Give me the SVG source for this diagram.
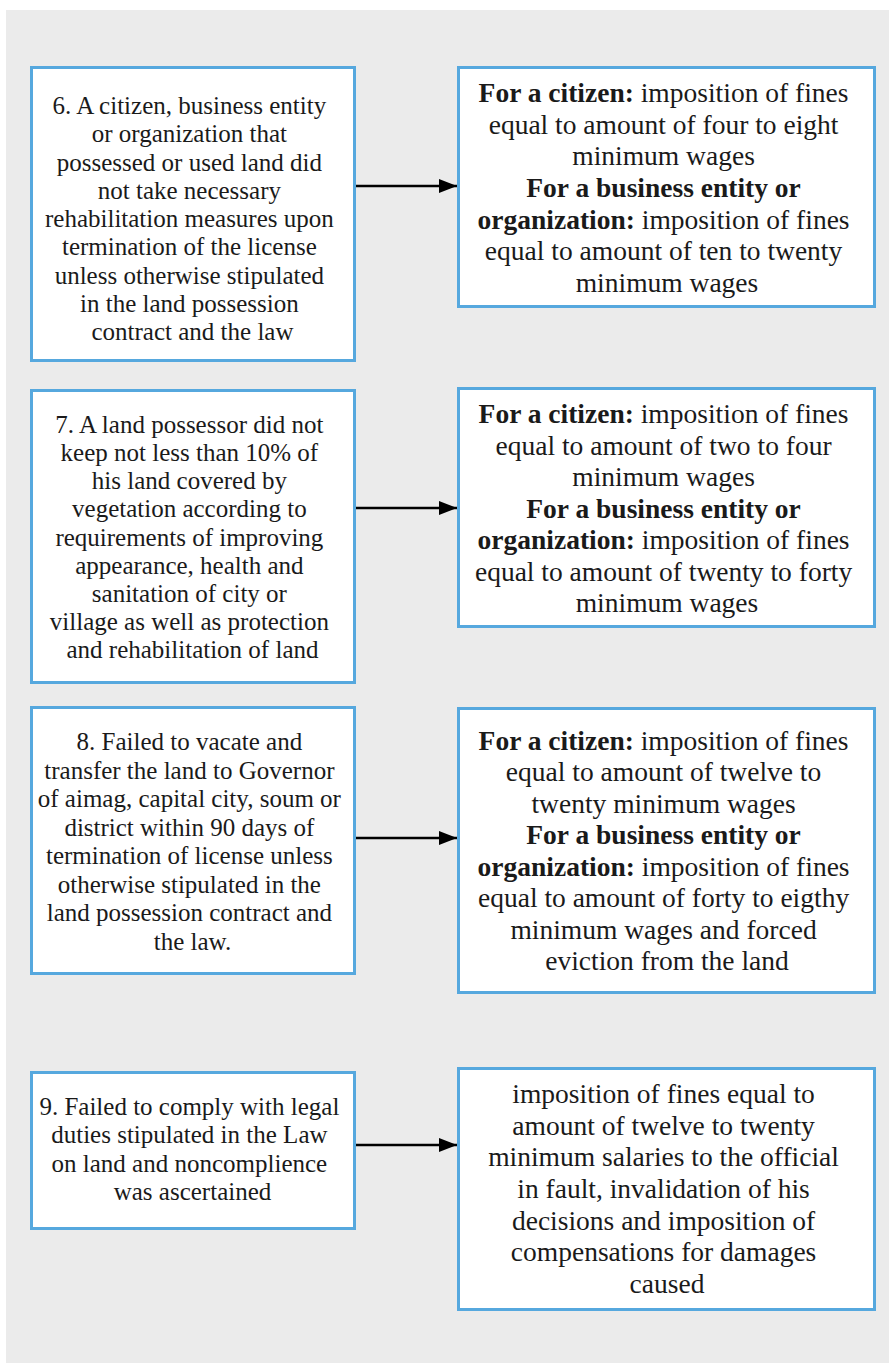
<svg xmlns="http://www.w3.org/2000/svg" width="889" height="1371" viewBox="0 0 889 1371">
<defs>
<style>
.bx{fill:#ffffff;stroke:#56a8de;stroke-width:3}
.tl{font-family:'Liberation Serif','DejaVu Serif',serif;font-size:25px;fill:#1a1a1a;text-anchor:middle}
.tr{font-family:'Liberation Serif','DejaVu Serif',serif;font-size:27.5px;fill:#1a1a1a;text-anchor:middle}
.b{font-weight:bold}
.cn{stroke:#000;stroke-width:2.5;fill:none}
</style>
<marker id="ah" markerWidth="18" markerHeight="14" refX="18" refY="7" orient="auto" markerUnits="userSpaceOnUse">
<polygon points="0,0 18,7 0,14" fill="#000"/>
</marker>
</defs>
<rect x="0" y="0" width="889" height="1371" fill="#ffffff"/>
<rect x="6" y="10" width="883" height="1353" fill="#ebebeb"/>

<g id="connectors">
<line class="cn" x1="355" y1="186" x2="457" y2="186" marker-end="url(#ah)"/>
<line class="cn" x1="355" y1="508" x2="457" y2="508" marker-end="url(#ah)"/>
<line class="cn" x1="355" y1="838" x2="457" y2="838" marker-end="url(#ah)"/>
<line class="cn" x1="355" y1="1145" x2="457" y2="1145" marker-end="url(#ah)"/>
</g>

<g id="node6">
<rect class="bx" x="31.5" y="67.5" width="323" height="293"/>
<text class="tl" font-family="Liberation Serif, serif">
<tspan x="192.5" y="114">6. A citizen, business entity</tspan>
<tspan x="192.5" y="142.3">or organization that</tspan>
<tspan x="192.5" y="170.5">possessed or used land did</tspan>
<tspan x="192.5" y="198.8">not take necessary</tspan>
<tspan x="192.5" y="227">rehabilitation measures upon</tspan>
<tspan x="192.5" y="255.3">termination of the license</tspan>
<tspan x="192.5" y="283.5">unless otherwise stipulated</tspan>
<tspan x="192.5" y="311.8">in the land possession</tspan>
<tspan x="192.5" y="340">contract and the law</tspan>
</text>
</g>

<g id="result6">
<rect class="bx" x="458.5" y="67.5" width="416" height="239"/>
<text class="tr">
<tspan x="667" y="102"><tspan class="b">For a citizen:</tspan> imposition of fines</tspan>
<tspan x="667" y="133.7">equal to amount of four to eight</tspan>
<tspan x="667" y="165.3">minimum wages</tspan>
<tspan x="667" y="197" class="b">For a business entity or</tspan>
<tspan x="667" y="228.7"><tspan class="b">organization:</tspan> imposition of fines</tspan>
<tspan x="667" y="260.3">equal to amount of ten to twenty</tspan>
<tspan x="667" y="292">minimum wages</tspan>
</text>
</g>

<g id="node7">
<rect class="bx" x="31.5" y="390.5" width="323" height="292"/>
<text class="tl">
<tspan x="192.5" y="433">7. A land possessor did not</tspan>
<tspan x="192.5" y="461.1">keep not less than 10% of</tspan>
<tspan x="192.5" y="489.3">his land covered by</tspan>
<tspan x="192.5" y="517.4">vegetation according to</tspan>
<tspan x="192.5" y="545.5">requirements of improving</tspan>
<tspan x="192.5" y="573.6">appearance, health and</tspan>
<tspan x="192.5" y="601.8">sanitation of city or</tspan>
<tspan x="192.5" y="629.9">village as well as protection</tspan>
<tspan x="192.5" y="658">and rehabilitation of land</tspan>
</text>
</g>

<g id="result7">
<rect class="bx" x="458.5" y="388.5" width="416" height="238"/>
<text class="tr">
<tspan x="667" y="423"><tspan class="b">For a citizen:</tspan> imposition of fines</tspan>
<tspan x="667" y="454.5">equal to amount of two to four</tspan>
<tspan x="667" y="486">minimum wages</tspan>
<tspan x="667" y="517.5" class="b">For a business entity or</tspan>
<tspan x="667" y="549"><tspan class="b">organization:</tspan> imposition of fines</tspan>
<tspan x="667" y="580.5">equal to amount of twenty to forty</tspan>
<tspan x="667" y="612">minimum wages</tspan>
</text>
</g>

<g id="node8">
<rect class="bx" x="31.5" y="707.5" width="323" height="266"/>
<text class="tl">
<tspan x="192.5" y="750">8. Failed to vacate and</tspan>
<tspan x="192.5" y="778.6">transfer the land to Governor</tspan>
<tspan x="192.5" y="807.1">of aimag, capital city, soum or</tspan>
<tspan x="192.5" y="835.7">district within 90 days of</tspan>
<tspan x="192.5" y="864.3">termination of license unless</tspan>
<tspan x="192.5" y="892.9">otherwise stipulated in the</tspan>
<tspan x="192.5" y="921.4">land possession contract and</tspan>
<tspan x="192.5" y="950">the law.</tspan>
</text>
</g>

<g id="result8">
<rect class="bx" x="458.5" y="708.5" width="416" height="284"/>
<text class="tr">
<tspan x="667" y="750"><tspan class="b">For a citizen:</tspan> imposition of fines</tspan>
<tspan x="667" y="781.4">equal to amount of twelve to</tspan>
<tspan x="667" y="812.9">twenty minimum wages</tspan>
<tspan x="667" y="844.3" class="b">For a business entity or</tspan>
<tspan x="667" y="875.7"><tspan class="b">organization:</tspan> imposition of fines</tspan>
<tspan x="667" y="907.1">equal to amount of forty to eigthy</tspan>
<tspan x="667" y="938.6">minimum wages and forced</tspan>
<tspan x="667" y="970">eviction from the land</tspan>
</text>
</g>

<g id="node9">
<rect class="bx" x="31.5" y="1072.5" width="323" height="156"/>
<text class="tl">
<tspan x="192.5" y="1115">9. Failed to comply with legal</tspan>
<tspan x="192.5" y="1143.3">duties stipulated in the Law</tspan>
<tspan x="192.5" y="1171.7">on land and noncomplience</tspan>
<tspan x="192.5" y="1200">was ascertained</tspan>
</text>
</g>

<g id="result9">
<rect class="bx" x="458.5" y="1068.5" width="416" height="241"/>
<text class="tr">
<tspan x="667" y="1103">imposition of fines equal to</tspan>
<tspan x="667" y="1134.7">amount of twelve to twenty</tspan>
<tspan x="667" y="1166.3">minimum salaries to the official</tspan>
<tspan x="667" y="1198">in fault, invalidation of his</tspan>
<tspan x="667" y="1229.7">decisions and imposition of</tspan>
<tspan x="667" y="1261.3">compensations for damages</tspan>
<tspan x="667" y="1293">caused</tspan>
</text>
</g>
</svg>
